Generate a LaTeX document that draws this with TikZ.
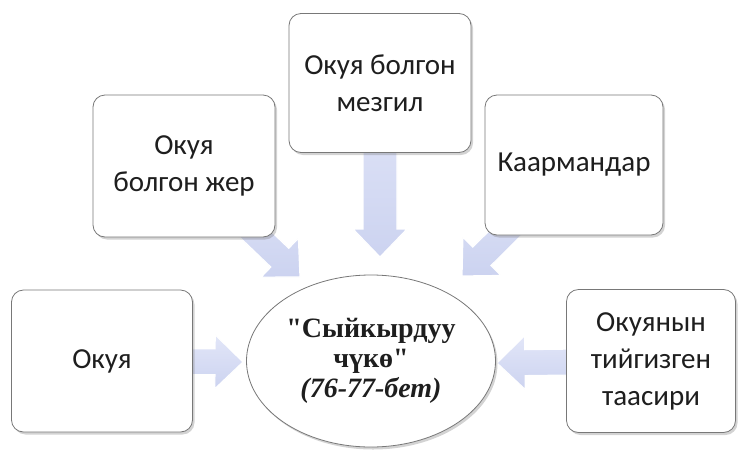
\documentclass[tikz,border=0pt]{standalone}
\usepackage{fontspec}
\setmainfont{Carlito}
\newfontfamily\titlefont{Liberation Serif}
\usetikzlibrary{calc, shapes.geometric, shadows, backgrounds}

\definecolor{boxline}{RGB}{120,120,120}
\definecolor{arrowfill}{RGB}{204,211,240}
\definecolor{arrowlight}{RGB}{226,230,248}
\definecolor{textgray}{RGB}{30,30,30}

% block arrow: [shaft half width]{from}{tip}
\newcommand{\blockarrow}[3][13pt]{%
  \coordinate (ba-h) at ($(#3)!28pt!(#2)$);
  \draw[arrowstyle] ($(#2)!#1!90:(#3)$) -- ($(ba-h)!#1!-90:(#2)$)
    -- ($(ba-h)!27pt!-90:(#2)$) -- (#3) -- ($(ba-h)!27pt!90:(#2)$)
    -- ($(ba-h)!#1!90:(#2)$) -- ($(#2)!#1!-90:(#3)$) -- cycle;}

\begin{document}
\begin{tikzpicture}[x=1pt, y=-1pt,
    textbox/.style={draw=boxline, fill=white, rounded corners=12pt, line width=0.8pt,
      drop shadow={shadow xshift=2pt, shadow yshift=-2.5pt, opacity=0.35},
      align=center, text=textgray, font=\fontsize{29}{37}\selectfont},
    oval/.style={ellipse, draw=boxline, fill=white, line width=0.8pt, inner sep=0pt,
      drop shadow={shadow xshift=2pt, shadow yshift=-2.5pt, opacity=0.35},
      align=center, text=textgray, font=\titlefont\bfseries\fontsize{28}{30}\selectfont},
    arrowstyle/.style={draw=white, line width=1.2pt, top color=arrowlight, bottom color=arrowfill}]
  \useasboundingbox (0,0) rectangle (739,453);

  % text boxes
  \node[textbox, minimum width=181, minimum height=142] (okuya) at (102,361) {Окуя};
  \node[textbox, minimum width=182, minimum height=142] (jer) at (184,166) {Окуя\\болгон жер};
  \node[textbox, minimum width=182, minimum height=139] (mezgil) at (380,83) {Окуя болгон\\мезгил};
  \node[textbox, minimum width=178, minimum height=140] (kaarman) at (574,165) {Каармандар};
  \node[textbox, minimum width=169, minimum height=143] (taasir) at (651,361) {Окуянын\\тийгизген\\таасири};

  % the story
  \node[oval, minimum width=249, minimum height=172] (story) at (371,361)
    {"Сыйкырдуу\\ чүкө"\\ \textit{(76-77-бет)}};

  % arrow tips
  \coordinate (tipW) at (243,362);
  \coordinate (tipE) at (497,363);
  \coordinate (tipN) at (380,257);
  \coordinate (tipNW) at (300,277);
  \coordinate (tipNE) at (462,276);

  \begin{scope}[on background layer]
    \blockarrow{okuya.center}{tipW}
    \blockarrow{taasir.center}{tipE}
    \blockarrow[17pt]{mezgil.center}{tipN}
    \blockarrow{jer.center}{tipNW}
    \blockarrow{kaarman.center}{tipNE}
  \end{scope}
\end{tikzpicture}
\end{document}
